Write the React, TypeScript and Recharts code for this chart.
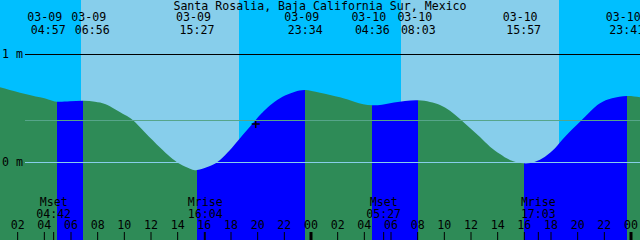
import React from "react";
import {
  ComposedChart,
  Area,
  XAxis,
  YAxis,
  ReferenceArea,
  ReferenceDot,
} from "recharts";

const W = 640;
const H = 240;
const FONT = '"DejaVu Sans Mono", monospace';
const FS = 11.6;

// hours counted from 03-09 00:00
const hm = (h: number, m: number) => h + m / 60;
const X_MIN = 0.675;
const X_MAX = 48.675;
const Y_MIN = -0.722;
const Y_MAX = 1.5;

const title = "Santa Rosalia, Baja California Sur, Mexico";
const dayLabels = ["03-09", "03-10", "03-11"];

// tide curve (metres)
const tideHours = [
  0.675, 2.175, 3.675, 4.425, hm(4, 57), 5.925, hm(6, 56), 7.8, 8.55, 9.3,
  10.05, 10.65, 11.55, 12.675, 13.425, 14.175, 14.925, hm(15, 27), 16.425,
  17.175, 17.925, 18.675, 19.8, 20.55, 21.3, 22.05, 22.8, hm(23, 34), 24.675,
  26.175, 27.3, hm(28, 36), 29.925, 31.05, hm(32, 3), 32.925, 33.675, 34.425,
  35.175, 35.925, 36.675, 37.425, 38.175, 38.925, hm(39, 57), 40.8, 41.55,
  42.3, 43.05, 44.175, 44.925, 45.675, 46.575, hm(47, 41), 48.675,
];
const tideLevels = [
  0.692, 0.642, 0.599, 0.574, 0.558, 0.562, 0.568, 0.558, 0.537, 0.488,
  0.435, 0.386, 0.273, 0.134, 0.049, -0.019, -0.062, -0.074, -0.037,
  0.019, 0.111, 0.219, 0.382, 0.481, 0.56, 0.616, 0.651, 0.667, 0.642,
  0.599, 0.556, 0.525, 0.544, 0.565, 0.571, 0.556, 0.528, 0.475,
  0.398, 0.315, 0.231, 0.142, 0.074, 0.019, -0.012, 0.003, 0.049,
  0.127, 0.234, 0.373, 0.466, 0.544, 0.59, 0.611, 0.599,
];

// highs / lows
const extremeHours = [
  hm(4, 57), hm(6, 56), hm(15, 27), hm(23, 34),
  hm(28, 36), hm(32, 3), hm(39, 57), hm(47, 41),
];
const extremeKinds = ["low", "high", "low", "high", "low", "high", "low", "high"];

// sun and moon
const sunriseHours = [hm(6, 45), hm(30, 45)];
const sunsetHours = [hm(18, 36), hm(42, 36)];
const moonHours = [hm(4, 42), hm(16, 4), hm(29, 27), hm(41, 3)];
const moonKinds = ["Mset", "Mrise", "Mset", "Mrise"];

const hourTicks = [2, 4, 6, 8, 10, 12, 14, 16, 18, 20, 22, 24, 26, 28, 30, 32, 34, 36, 38, 40, 42, 44, 46, 48];

const levelTicks = [0, 0.386, 1];
const levelLabels = ["0 m", "", "1 m"];
const levelColors = ["#87CEEB", "#56a58a", "#000000"];

const nowMark = { t: 19.85, level: 0.352 };

const NIGHT = "#00BFFF";
const DAY = "#87CEEB";
const RISE = "#0000FF";
const FALL = "#2E8B57";

const data = tideHours.map((t, i) => ({ t, level: tideLevels[i] }));

const pxPerHour = W / (X_MAX - X_MIN);
const pad2 = (n: number) => String(n).padStart(2, "0");
const clock = (v: number) => {
  const mins = Math.round(v * 60) % (24 * 60);
  return `${pad2(Math.floor(mins / 60))}:${pad2(mins % 60)}`;
};
const near = (a: number, b: number) => Math.abs(a - b) < 1e-6;

// push crowded top labels apart
const labelShift = (() => {
  const p = extremeHours.map((t) => (t - X_MIN) * pxPerHour);
  const q = [...p];
  for (let i = 0; i + 1 < q.length; i++) {
    const d = q[i + 1] - q[i];
    if (d < 44) {
      q[i] -= (44 - d) / 2;
      q[i + 1] += (44 - d) / 2;
    }
  }
  return q.map((v, i) => v - p[i]);
})();

// fill stops: blue while rising, green while falling
const fillStops = (() => {
  const bounds = [X_MIN, ...extremeHours, X_MAX];
  const stops: { off: number; color: string }[] = [];
  for (let i = 0; i + 1 < bounds.length; i++) {
    const color = extremeKinds[i] === "high" ? RISE : FALL;
    stops.push({ off: (bounds[i] - X_MIN) / (X_MAX - X_MIN), color });
    stops.push({ off: (bounds[i + 1] - X_MIN) / (X_MAX - X_MIN), color });
  }
  return stops;
})();

const skyBands = (() => {
  const edges = [X_MIN, sunriseHours[0], sunsetHours[0], sunriseHours[1], sunsetHours[1], X_MAX];
  return edges.slice(0, -1).map((x1, i) => ({ x1, x2: edges[i + 1], fill: i % 2 ? DAY : NIGHT }));
})();

const txt = { fontFamily: FONT, fontSize: FS, fill: "#000" };

function TopTick(props: any) {
  const { x, payload } = props;
  const v = payload.value;
  const i = extremeHours.findIndex((e) => near(e, v));
  const cx = x + (i >= 0 ? labelShift[i] : 0);
  return (
    <g>
      <text x={cx - 3.5} y={21} textAnchor="middle" {...txt}>
        {dayLabels[Math.floor(v / 24)]}
      </text>
      <text x={cx} y={34} textAnchor="middle" {...txt}>
        {clock(v)}
      </text>
    </g>
  );
}

function BottomTick(props: any) {
  const { x, payload } = props;
  const v = payload.value;
  const mi = moonHours.findIndex((m) => near(m, v));
  if (mi >= 0) {
    return (
      <g>
        <line x1={x} x2={x} y1={H - 8} y2={H} stroke="#000" />
        <text x={x} y={206} textAnchor="middle" {...txt}>{moonKinds[mi]}</text>
        <text x={x} y={218} textAnchor="middle" {...txt}>{clock(v)}</text>
      </g>
    );
  }
  const midnight = v % 24 === 0;
  return (
    <g>
      <line x1={x} x2={x} y1={H - 8} y2={H} stroke="#000" strokeWidth={midnight ? 3 : 1} />
      <text x={x} y={229} textAnchor="middle" {...txt}>{pad2(v % 24)}</text>
    </g>
  );
}

function LevelTick(props: any) {
  const { y, payload } = props;
  const i = levelTicks.findIndex((l) => near(l, payload.value));
  const yy = Math.floor(y) + 0.5;
  return (
    <g>
      <line x1={25} x2={W} y1={yy} y2={yy} stroke={levelColors[i]} strokeWidth={1} />
      {levelLabels[i] && (
        <text x={2} y={y + 4} {...txt}>{levelLabels[i]}</text>
      )}
    </g>
  );
}

const Cross = (p: any) => (
  <path
    d={`M${p.cx - 4},${p.cy}H${p.cx + 4}M${p.cx},${p.cy - 4}V${p.cy + 4}`}
    stroke="#000"
    strokeWidth={1.5}
    fill="none"
  />
);

export default function App() {
  return (
    <div style={{ position: "fixed", left: 0, top: 0, width: W, height: H, background: NIGHT }}>
      <ComposedChart width={W} height={H} data={data} margin={{ top: 0, right: 0, bottom: 0, left: 0 }}>
        <defs>
          <linearGradient id="tideFill" x1="0" y1="0" x2="1" y2="0">
            {fillStops.map((s, i) => (
              <stop key={i} offset={s.off} stopColor={s.color} />
            ))}
          </linearGradient>
        </defs>
        <XAxis
          xAxisId="b"
          dataKey="t"
          type="number"
          domain={[X_MIN, X_MAX]}
          allowDataOverflow
          orientation="bottom"
          mirror
          ticks={[...hourTicks, ...moonHours].sort((a, b) => a - b)}
          interval={0}
          tick={<BottomTick />}
          tickLine={false}
          axisLine={false}
        />
        <XAxis
          xAxisId="t"
          dataKey="t"
          type="number"
          domain={[X_MIN, X_MAX]}
          allowDataOverflow
          orientation="top"
          mirror
          ticks={extremeHours}
          interval={0}
          tick={<TopTick />}
          tickLine={false}
          axisLine={false}
        />
        <YAxis
          type="number"
          domain={[Y_MIN, Y_MAX]}
          allowDataOverflow
          mirror
          ticks={levelTicks}
          interval={0}
          tick={<LevelTick />}
          tickLine={false}
          axisLine={false}
        />
        {skyBands.map((b, i) => (
          <ReferenceArea
            key={i}
            xAxisId="b"
            x1={b.x1}
            x2={b.x2}
            y1={Y_MIN}
            y2={Y_MAX}
            fill={b.fill}
            fillOpacity={1}
            stroke="none"
            zIndex={-10}
          />
        ))}
        <Area
          xAxisId="b"
          dataKey="level"
          type="natural"
          stroke="none"
          fill="url(#tideFill)"
          fillOpacity={1}
          baseValue={Y_MIN}
          dot={false}
          activeDot={false}
          isAnimationActive={false}
        />
        <ReferenceDot xAxisId="b" x={nowMark.t} y={nowMark.level} shape={Cross} />
      </ComposedChart>
      <svg width={W} height={H} style={{ position: "absolute", left: 0, top: 0, pointerEvents: "none" }}>
        <text x={W / 2} y={10} textAnchor="middle" {...txt}>{title}</text>
      </svg>
    </div>
  );
}
